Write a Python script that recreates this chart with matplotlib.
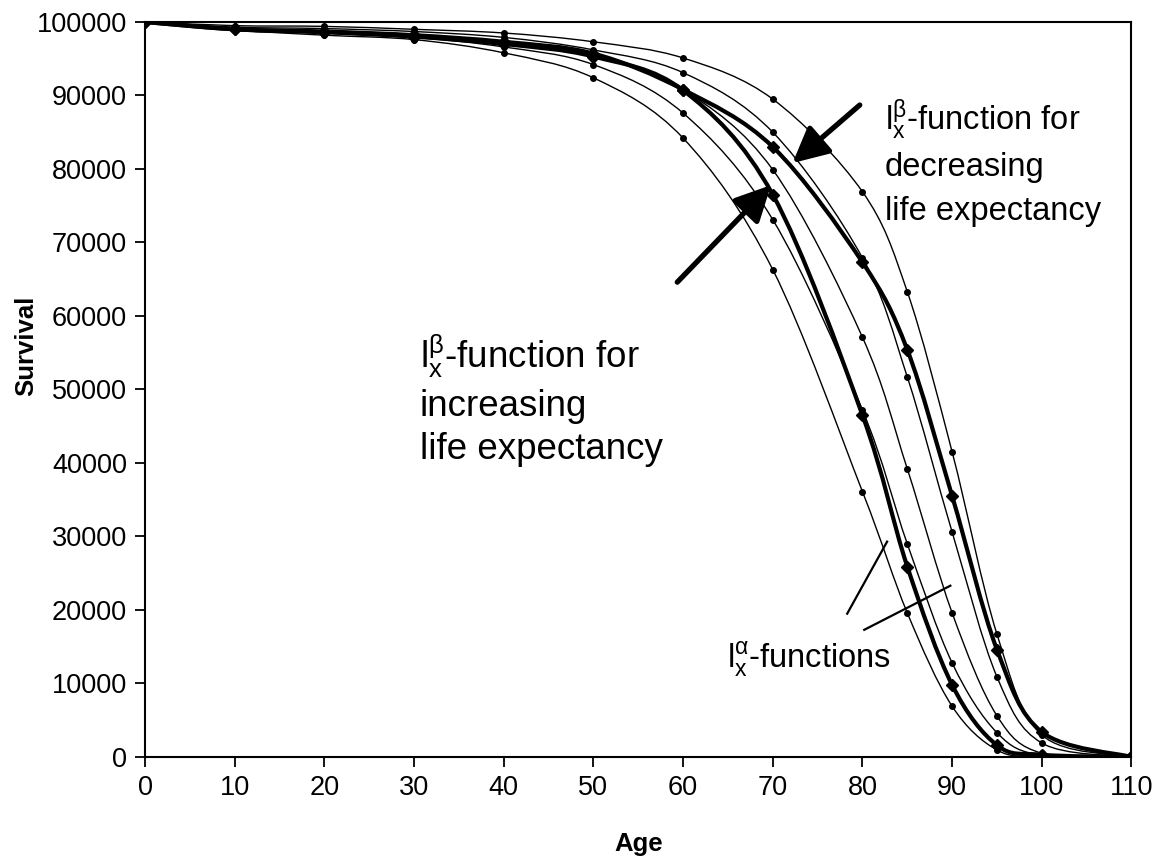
import numpy as np
import matplotlib
import matplotlib.pyplot as plt
from matplotlib.path import Path
from matplotlib.patches import PathPatch

matplotlib.use('Agg')

plt.rcParams['font.family'] = ['Liberation Sans', 'DejaVu Sans']
plt.rcParams['mathtext.fontset'] = 'custom'
plt.rcParams['mathtext.rm'] = 'Liberation Sans'
plt.rcParams['mathtext.it'] = 'Liberation Sans:italic'

ages = [0, 10, 20, 30, 40, 50, 60, 70, 80, 85, 90, 95, 100, 110]

# l_x^alpha survival curves (thin)
alpha_a = [100000, 99500, 99400, 99000, 98500, 97300, 95100, 89500, 76900, 63300, 41500, 16700, 3000, 0]
alpha_b = [100000, 99300, 99100, 98700, 97900, 96200, 93100, 85000, 67900, 51700, 30600, 10900, 1900, 0]
alpha_c = [100000, 99100, 98800, 98300, 97300, 95500, 90800, 79900, 57100, 39200, 19600, 5600, 500, 0]
alpha_d = [100000, 99000, 98500, 97900, 96600, 94200, 87600, 73100, 47200, 29000, 12800, 3300, 200, 0]
alpha_e = [100000, 98900, 98200, 97600, 95800, 92400, 84200, 66300, 36100, 19600, 6900, 950, 50, 0]

# l_x^beta survival curves (thick)
beta_decr = [100000, 99000, 98700, 98200, 97300, 95700, 90800, 83000, 67300, 55400, 35500, 14600, 3400, 0]
beta_incr = [100000, 99000, 98600, 98000, 97000, 95300, 90700, 76500, 46500, 25900, 9800, 1600, 300, 0]

x_ticks = list(range(0, 111, 10))
y_ticks = list(range(0, 100001, 10000))


def smooth_path(xs, ys):
    # spreadsheet-style smoothed line: cubic Bezier through every point
    pts = np.column_stack([xs, ys]).astype(float)
    n = len(pts)
    verts = [pts[0]]
    codes = [Path.MOVETO]
    for i in range(n - 1):
        p0 = pts[max(i - 1, 0)]
        p1 = pts[i]
        p2 = pts[i + 1]
        p3 = pts[min(i + 2, n - 1)]
        verts += [p1 + (p2 - p0) / 6, p2 - (p3 - p1) / 6, p2]
        codes += [Path.CURVE4] * 3
    return Path(verts, codes)


def draw_curve(ax, ys, lw, marker, ms, z):
    ax.add_patch(PathPatch(smooth_path(ages, ys), facecolor='none',
                           edgecolor='black', linewidth=lw, zorder=z))
    ax.plot(ages, ys, linestyle='none', marker=marker, markersize=ms,
            color='black', zorder=z + 0.5)


fig = plt.figure(figsize=(11.66, 8.65), dpi=100)
ax = fig.add_axes([0.1244, 0.1249, 0.8460, 0.8497])

for ys in [alpha_a, alpha_b, alpha_c, alpha_d, alpha_e]:
    draw_curve(ax, ys, 1.0, 'o', 4, 2)
for ys in [beta_decr, beta_incr]:
    draw_curve(ax, ys, 3.0, 'D', 6.5, 3)

ax.set_xlim(0, 110)
ax.set_ylim(0, 100000)
ax.set_xticks(x_ticks)
ax.set_xticklabels([str(v) for v in x_ticks])
ax.set_yticks(y_ticks)
ax.set_yticklabels([str(v) for v in y_ticks])
ax.tick_params(labelsize=19.5, direction='out', length=7, width=1.3, pad=6)
for s in ax.spines.values():
    s.set_linewidth(1.5)

ax.set_xlabel('Age', fontsize=18.5, fontweight='bold')
ax.set_ylabel('Survival', fontsize=18.5, fontweight='bold')
ax.xaxis.set_label_coords(0.5, -0.102)
ax.yaxis.set_label_coords(-0.108, 0.56)

# arrows pointing at the two beta curves
arrow_kw = dict(arrowstyle='-|>,head_length=1.2,head_width=0.6',
                color='black', lw=3.8, mutation_scale=18, shrinkA=0, shrinkB=0)
ax.annotate('', xy=(72.2, 80800), xytext=(79.7, 88700), arrowprops=arrow_kw, zorder=5)
ax.annotate('', xy=(69.8, 77800), xytext=(59.35, 64600), arrowprops=arrow_kw, zorder=5)

# pointer lines for the alpha curves
ax.plot([78.3, 82.75], [19500, 29300], color='black', lw=1.6, zorder=5)
ax.plot([80.2, 89.8], [17300, 23300], color='black', lw=1.6, zorder=5)


def fig_text(px, py, s, size):
    fig.text(px / 1166, 1 - py / 865, s, fontsize=size, ha='left', va='baseline')


fig_text(885, 130, r'$\mathrm{l_x^{\beta}}$-function for', 23.5)
fig_text(885, 176, 'decreasing', 23.5)
fig_text(885, 220, 'life expectancy', 23.5)

fig_text(420, 368, r'$\mathrm{l_x^{\beta}}$-function for', 26.5)
fig_text(420, 416, 'increasing', 26.5)
fig_text(420, 459, 'life expectancy', 26.5)

fig_text(727, 668, r'$\mathrm{l_x^{\alpha}}$-functions', 23.5)

fig.savefig('out.png', dpi=100)
